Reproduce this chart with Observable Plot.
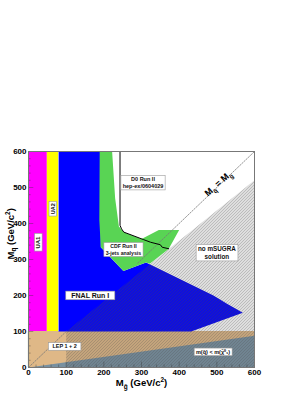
<!DOCTYPE html>
<html><head><meta charset="utf-8">
<script src="https://cdn.jsdelivr.net/npm/d3@7"></script>
<script src="https://cdn.jsdelivr.net/npm/@observablehq/plot@0.6"></script>
<style>body{margin:0;background:#fff}svg{display:block}</style>
</head><body>
<script>
// ---- data ----
const xTicks = [0, 100, 200, 300, 400, 500, 600];
const yTicks = [0, 100, 200, 300, 400, 500, 600];
const minorTicks = d3.range(0, 601, 20);
const ua1Band = [{x1: 0, x2: 50, y1: 100, y2: 600}];
const ua2Band = [{x1: 50, x2: 80, y1: 100, y2: 600}];
const lepBand = [{x1: 0, x2: 600, y1: 0, y2: 100}];
const neutralinoLSP = [[0, 0], [600, 88], [600, 0]];
const fnalRun1 = [[80, 100], [80, 600], [192, 600], [192, 334], [252, 268], [312, 292], [491, 200], [527, 177], [569, 152], [432, 100]];
const cdfRun2 = [[189, 600], [222, 600], [230, 470], [240, 392], [253, 376], [300, 357], [346, 382], [400, 382], [372, 329], [322, 288], [312, 292], [252, 268], [192, 334], [188, 410]];
const d0Run2 = [[243, 600], [243, 395], [247, 385], [253, 376], [306, 355], [324, 348], [350, 341], [355, 334], [372, 330]];
const noMsugra = [[100, 0], [100, 100], [600, 520], [600, 0]];
const diagonalLow = [0, 100];
const diagonalHigh = [290, 600];
const boxLabels = [
  {text: "UA1", x: 25, y: 347, rotate: -90},
  {text: "UA2", x: 64, y: 441, rotate: -90},
  {text: "D0 Run II\nhep-ex/0604029", x: 304, y: 514, rotate: 0},
  {text: "CDF Run II\n3-jets analysis", x: 252, y: 328, rotate: 0},
  {text: "no mSUGRA\nsolution", x: 500, y: 319, rotate: 0},
  {text: "FNAL Run I", x: 164, y: 201, rotate: 0},
  {text: "LEP 1 + 2", x: 96, y: 59, rotate: 0},
  {text: "m(q\u0303) < m(\u03C7\u0303\u2070\u2081)", x: 490, y: 44, rotate: 0}
];
const diagLabel = [{text: "M_{q\u0303} = M_{g\u0303}", x: 504, y: 511}];
const xTitle = ["M_{g\u0303} (GeV/c^{2})"];
const yTitle = ["M_{q\u0303} (GeV/c^{2})"];

// ---- styles ----
const labelSize = {"UA1": 6, "UA2": 5.5, "D0 Run II\nhep-ex/0604029": 5.5, "CDF Run II\n3-jets analysis": 5.2,
  "no mSUGRA\nsolution": 6.3, "FNAL Run I": 7, "LEP 1 + 2": 5.5};
const labelPad = {"FNAL Run I": 5.5, "LEP 1 + 2": 4, "UA1": 2.5};
const sizeOf = d => labelSize[d.text] ?? 5.5;
const poly = (pts, opts) => Plot.line(pts, {x: d => d[0], y: d => d[1], curve: "linear-closed", stroke: "none", ...opts});

const plot = Plot.plot({
  width: 305, height: 394,
  marginLeft: 28, marginRight: 51, marginTop: 151, marginBottom: 27,
  style: {fontFamily: "'Liberation Sans', Arial, Helvetica, sans-serif", background: "#fff"},
  x: {domain: [0, 600]},
  y: {domain: [0, 600]},
  marks: [
    Plot.rect(lepBand, {x1: "x1", x2: "x2", y1: "y1", y2: "y2", fill: "#dfb887"}),
    poly(neutralinoLSP, {fill: "#7890a0"}),
    Plot.rect(ua1Band, {x1: "x1", x2: "x2", y1: "y1", y2: "y2", fill: "#ff00ff"}),
    Plot.rect(ua2Band, {x1: "x1", x2: "x2", y1: "y1", y2: "y2", fill: "#ffff00"}),
    poly(fnalRun1, {fill: "#0000ff"}),
    poly(cdfRun2, {fill: "#59d454"}),
    Plot.line(diagonalLow, {x: d => d, y: d => d, stroke: "#777", strokeWidth: 0.8, strokeDasharray: "1.5,1.5"}),
    Plot.line(diagonalHigh, {x: d => d, y: d => d, stroke: "#777", strokeWidth: 0.8, strokeDasharray: "1.5,1.5"}),
    poly(noMsugra, {fill: "url(#hatch)"}),
    Plot.line(d0Run2, {x: d => d[0], y: d => d[1], stroke: "#000", strokeWidth: 1}),
    Plot.ruleX([0], {y1: 0, y2: 100, stroke: "#8a9a50", strokeWidth: 1.2}),
    Plot.ruleY(minorTicks, {y: d => d, x1: 0, x2: d => d % 100 === 0 ? 14 : 7, stroke: "#333", strokeWidth: 0.6, strokeOpacity: 0.6}),
    Plot.ruleX(minorTicks, {x: d => d, y1: 0, y2: d => d % 100 === 0 ? 15 : 7, stroke: "#333", strokeWidth: 0.6, strokeOpacity: 0.6}),
    Plot.frame({stroke: "#777", strokeWidth: 1}),
    Plot.axisX({ticks: xTicks, tickSize: 0, tickPadding: 2, fontSize: 8, fontWeight: "bold", label: null, tickFormat: d => String(d)}),
    Plot.axisY({ticks: yTicks, tickSize: 0, tickPadding: 2, fontSize: 8, fontWeight: "bold", label: null, tickFormat: d => String(d)}),
    Plot.text(xTitle, {text: d => d, frameAnchor: "bottom", dy: 18.5, fontSize: 9.5, fontWeight: "bold", className: "rich", fill: "#000"}),
    Plot.text(yTitle, {text: d => d, frameAnchor: "left", dx: -18, rotate: -90, fontSize: 9.5, fontWeight: "bold", className: "rich", fill: "#000"}),
    Plot.text(diagLabel, {x: "x", y: "y", text: "text", rotate: -42, fontSize: 9, fontWeight: "bold", className: "rich", fill: "#000"}),
    Plot.text(boxLabels, {x: "x", y: "y", text: "text", rotate: "rotate", fontSize: sizeOf, fontWeight: "bold", lineHeight: 1.25, fill: "#111", className: "boxed"})
  ]
});
document.body.appendChild(plot);

// hatch pattern (integer tile to avoid moire)
const svg = d3.select(plot);
const defs = svg.insert("defs", ":first-child");
const pat = defs.append("pattern").attr("id", "hatch").attr("patternUnits", "userSpaceOnUse")
  .attr("width", 3).attr("height", 3);
pat.append("path").attr("d", "M-1,1 L1,-1 M0,3 L3,0 M2,4 L4,2")
  .attr("stroke", "#4d4d4d").attr("stroke-width", 0.75).attr("fill", "none");

// rich text: _{sub} ^{sup}
const NS = "http://www.w3.org/2000/svg";
function richify(el, fs) {
  const s = el.textContent;
  if (!/[_^]\{/.test(s)) return;
  el.textContent = "";
  const re = /([_^])\{([^}]*)\}/g;
  let last = 0, shift = 0, m;
  const add = (t, target, size) => {
    const ts = document.createElementNS(NS, "tspan");
    ts.textContent = t;
    const dy = target - shift;
    if (dy) ts.setAttribute("dy", dy);
    shift = target;
    if (size) ts.setAttribute("font-size", size);
    el.appendChild(ts);
  };
  while ((m = re.exec(s))) {
    if (m.index > last) add(s.slice(last, m.index), 0);
    add(m[2], m[1] === "_" ? 0.3 * fs : -0.4 * fs, 0.68 * fs);
    last = re.lastIndex;
  }
  if (last < s.length) add(s.slice(last), 0);
}
svg.selectAll("g.rich text").each(function () {
  const fs = parseFloat(getComputedStyle(this).fontSize) || 10;
  richify(this, fs);
});

// boxes behind labels
svg.selectAll("g.boxed text").each(function (i) {
  const t = this.textContent.replace(/\s+/g, "");
  const entry = boxLabels.find(b => b.text.replace(/\s+/g, "") === t);
  const pad = entry ? (labelPad[entry.text] ?? 1.8) : 1.8;
  const bb = this.getBBox();
  const r = document.createElementNS(NS, "rect");
  r.setAttribute("x", bb.x - pad);
  r.setAttribute("y", bb.y - 0.8);
  r.setAttribute("width", bb.width + 2 * pad);
  r.setAttribute("height", bb.height + 1.6);
  r.setAttribute("fill", "#fff");
  r.setAttribute("stroke", "#999");
  r.setAttribute("stroke-width", 0.6);
  const tr = this.getAttribute("transform");
  if (tr) r.setAttribute("transform", tr);
  this.parentNode.insertBefore(r, this);
});
</script>
</body></html>
